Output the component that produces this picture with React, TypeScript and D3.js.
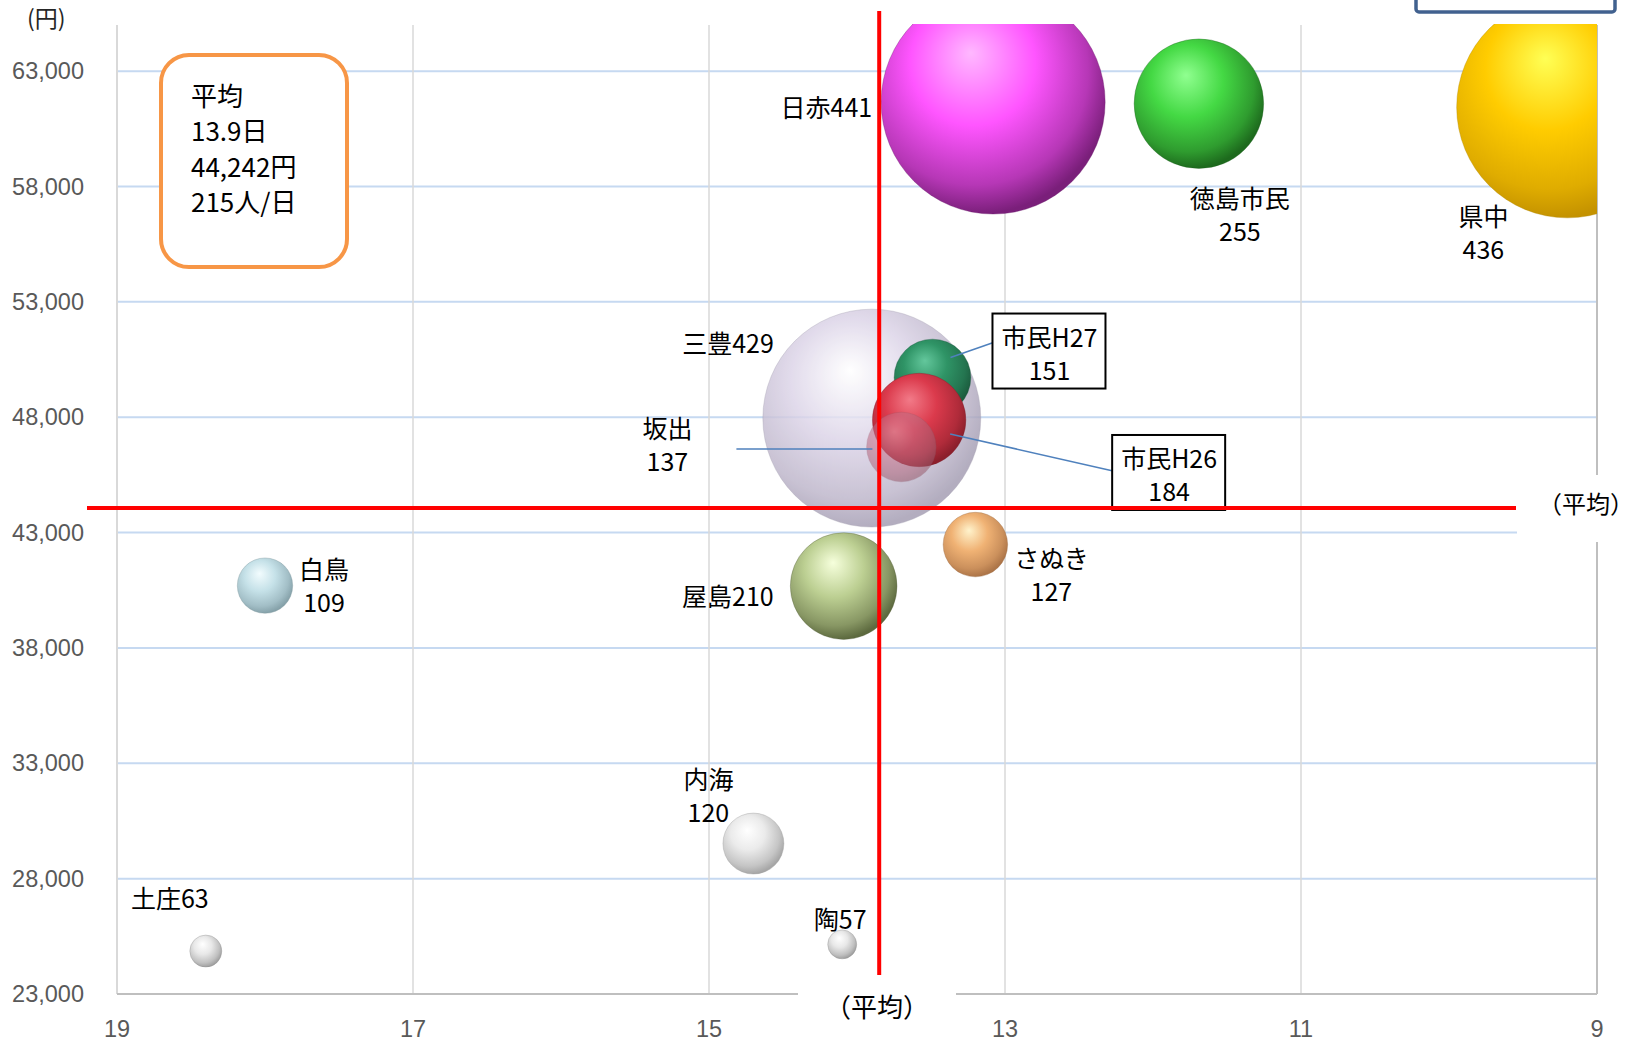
import React, { useEffect } from "react";
import * as d3 from "d3";

// ---- data ----
const names = ["三豊", "日赤", "県中", "徳島市民", "屋島", "市民H27", "市民H26", "坂出", "さぬき", "内海", "白鳥", "土庄", "陶"];
const days = [13.9, 13.08, 9.2, 11.69, 14.09, 13.49, 13.58, 13.7, 13.2, 14.7, 18.0, 18.4, 14.1];
const yen = [47960, 61660, 61440, 61590, 40680, 49720, 47880, 46710, 42480, 29520, 40700, 24860, 25150];
const patients = [429, 441, 436, 255, 210, 151, 184, 137, 127, 120, 109, 63, 57];

const xTicks = [19, 17, 15, 13, 11, 9];
const yTicks = [23000, 28000, 33000, 38000, 43000, 48000, 53000, 58000, 63000];
const avgDays = 13.85;
const avgYen = 44060;
const noteLines = ["平均", "13.9日", "44,242円", "215人/日"];

// ---- style / layout ----
const palette = [
  { hi: "#ffffff", base: "#dcd4e8", dark: "#a39cb2", op: 0.82 },
  { hi: "#ffb8ff", base: "#ff55ff", dark: "#7a1f7a", op: 1 },
  { hi: "#ffff55", base: "#ffcc00", dark: "#c49200", op: 1 },
  { hi: "#90ff90", base: "#44d944", dark: "#1d6a1d", op: 1 },
  { hi: "#f6ffdc", base: "#bccf92", dark: "#5d6a3f", op: 1 },
  { hi: "#63c79c", base: "#2f9466", dark: "#1b5c3e", op: 1 },
  { hi: "#f27a88", base: "#db3a4c", dark: "#8c1f2c", op: 1 },
  { hi: "#e9a8b8", base: "#c87088", dark: "#9a5a6c", op: 0.55 },
  { hi: "#fff3cc", base: "#f0b274", dark: "#ad7548", op: 1 },
  { hi: "#ffffff", base: "#ebebeb", dark: "#a6a6a6", op: 1 },
  { hi: "#f2fcfe", base: "#c5e1e8", dark: "#86a2aa", op: 1 },
  { hi: "#ffffff", base: "#e8e8e8", dark: "#a0a0a0", op: 1 },
  { hi: "#ffffff", base: "#e8e8e8", dark: "#a0a0a0", op: 1 },
];

// label layout relative to bubble center
const labelLayout: { dx: number; dy: number; anchor: string; lines: string[]; box?: boolean; leader?: number[] }[] = [
  { dx: -98, dy: -76, anchor: "end", lines: ["三豊429"] },
  { dx: -121, dy: 4, anchor: "end", lines: ["日赤441"] },
  { dx: -84, dy: 108, anchor: "middle", lines: ["県中", "436"] },
  { dx: 41, dy: 93, anchor: "middle", lines: ["徳島市民", "255"] },
  { dx: -70, dy: 9, anchor: "end", lines: ["屋島210"] },
  { dx: 117, dy: -42, anchor: "middle", lines: ["市民H27", "151"], box: true, leader: [18, -20, 61, -35] },
  { dx: 250, dy: 37, anchor: "middle", lines: ["市民H26", "184"], box: true, leader: [31, 14, 194, 51] },
  { dx: -234, dy: -20, anchor: "middle", lines: ["坂出", "137"], leader: [-29, 2, -165, 2] },
  { dx: 76, dy: 12, anchor: "middle", lines: ["さぬき", "127"] },
  { dx: -45, dy: -66, anchor: "middle", lines: ["内海", "120"] },
  { dx: 59, dy: -18, anchor: "middle", lines: ["白鳥", "109"] },
  { dx: -36, dy: -54, anchor: "middle", lines: ["土庄63"] },
  { dx: -2, dy: -26, anchor: "middle", lines: ["陶57"] },
];

const W = 1636;
const H = 1042;
const L = 117, R = 1597, T = 25, B = 994;
const CJK = "'Noto Sans CJK JP', 'Noto Sans', sans-serif";
const NUM = "'Liberation Sans', Arial, sans-serif";

export default function App() {
  useEffect(() => {
    document.body.style.margin = "0";
  }, []);

  const x = d3.scaleLinear().domain([19, 9]).range([L, R]);
  const y = d3.scaleLinear().domain([23000, 65000]).range([B, T]);
  const r = d3.scaleLinear().domain([0, 441]).range([0, 112]);

  const gx = x(avgDays);
  const gy = y(avgYen);
  const lineH = 33;

  return (
    <svg width={W} height={H} style={{ display: "block", background: "#fff" }}>
      <defs>
        {palette.map((p, i) => (
          <radialGradient key={i} id={`g${i}`} cx="0.42" cy="0.38" r="0.62" fx="0.4" fy="0.28">
            <stop offset="0" stopColor={p.hi} />
            <stop offset="0.45" stopColor={p.base} />
            <stop offset="0.82" stopColor={d3.interpolateRgb(p.base, p.dark)(0.55)} />
            <stop offset="1" stopColor={p.dark} />
          </radialGradient>
        ))}
        <clipPath id="plot">
          <rect x={L} y={T - 1} width={R - L} height={B - T + 1} />
        </clipPath>
      </defs>

      {/* horizontal gridlines */}
      {yTicks.slice(1).map((t) => (
        <line key={t} x1={L} x2={R} y1={y(t)} y2={y(t)} stroke="#c6d9f1" strokeWidth={2} />
      ))}
      {/* vertical gridlines */}
      {xTicks.slice(1, -1).map((t) => (
        <line key={t} x1={x(t)} x2={x(t)} y1={T} y2={B} stroke="#d9d9d9" strokeWidth={1.5} />
      ))}
      <line x1={R} x2={R} y1={T} y2={B} stroke="#bfbfbf" strokeWidth={2} />
      <line x1={L} x2={L} y1={T} y2={B} stroke="#d9d9d9" strokeWidth={2} />
      <line x1={L} x2={R} y1={B} y2={B} stroke="#bfbfbf" strokeWidth={2} />

      {/* y tick labels */}
      {yTicks.map((t) => (
        <text key={t} x={84} y={y(t)} textAnchor="end" dominantBaseline="central" fontFamily={NUM} fontSize={23.5} fill="#595959">
          {d3.format(",")(t)}
        </text>
      ))}
      {/* x tick labels */}
      {xTicks.map((t) => (
        <text key={t} x={x(t)} y={1029} textAnchor="middle" dominantBaseline="central" fontFamily={NUM} fontSize={23.5} fill="#595959">
          {t}
        </text>
      ))}
      <text x={27} y={17} dominantBaseline="central" fontFamily={CJK} fontSize={23} fill="#262626">(円)</text>

      {/* bubbles */}
      <g clipPath="url(#plot)">
        {names.map((n, i) => (
          <circle key={n} cx={x(days[i])} cy={y(yen[i])} r={r(patients[i])} fill={`url(#g${i})`} opacity={palette[i].op}
            stroke={d3.color(palette[i].dark)!.darker(0.3).toString()} strokeOpacity={0.35} strokeWidth={1} />
        ))}
      </g>

      {/* leader lines */}
      {names.map((n, i) => {
        const lay = labelLayout[i];
        if (!lay.leader) return null;
        const cx = x(days[i]);
        const cy = y(yen[i]);
        return (
          <line key={`ld${n}`} x1={cx + lay.leader[0]} y1={cy + lay.leader[1]} x2={cx + lay.leader[2]} y2={cy + lay.leader[3]}
            stroke="#4f81bd" strokeWidth={1.5} />
        );
      })}

      {/* average lines */}
      <line x1={gx} x2={gx} y1={11} y2={975} stroke="#ff0000" strokeWidth={4} />
      <line x1={87} x2={1516} y1={gy} y2={gy} stroke="#ff0000" strokeWidth={4} />

      {/* white boxes behind average labels */}
      <rect x={798} y={976} width={158} height={66} fill="#fff" />
      <rect x={1517} y={475} width={130} height={67} fill="#fff" />
      <text x={877} y={1005} textAnchor="middle" dominantBaseline="central" fontFamily={CJK} fontSize={26} fill="#000">（平均）</text>
      <text x={1538} y={502} dominantBaseline="central" fontFamily={CJK} fontSize={24} fill="#000">（平均）</text>

      {/* data labels */}
      {names.map((n, i) => {
        const lay = labelLayout[i];
        const cx = x(days[i]);
        const cy = y(yen[i]);
        const tx = cx + lay.dx;
        const ty = cy + lay.dy;
        return (
          <g key={`lb${n}`}>
            {lay.box && (
              <rect x={tx - 57} y={ty - 22} width={113} height={75} fill="#fff" stroke="#000" strokeWidth={2} />
            )}
            {lay.lines.map((s, k) => (
              <text key={k} x={tx} y={ty + k * lineH} textAnchor={lay.anchor as any} dominantBaseline="central"
                fontFamily={CJK} fontSize={25} fill="#000">
                {s}
              </text>
            ))}
          </g>
        );
      })}

      {/* red horizontal line over H26 box bottom */}
      <line x1={1100} x2={1240} y1={gy} y2={gy} stroke="#ff0000" strokeWidth={4} />

      {/* note box */}
      <rect x={161} y={55} width={186} height={212} rx={28} ry={28} fill="#fff" stroke="#f79646" strokeWidth={4} />
      {noteLines.map((s, k) => (
        <text key={k} x={191} y={94 + k * 35.5} dominantBaseline="central" fontFamily={CJK} fontSize={26} fill="#000">
          {s}
        </text>
      ))}

      {/* top-right box (partially visible) */}
      <rect x={1416} y={-20} width={199} height={32} rx={3} fill="#fff" stroke="#41618f" strokeWidth={3.5} />
    </svg>
  );
}
